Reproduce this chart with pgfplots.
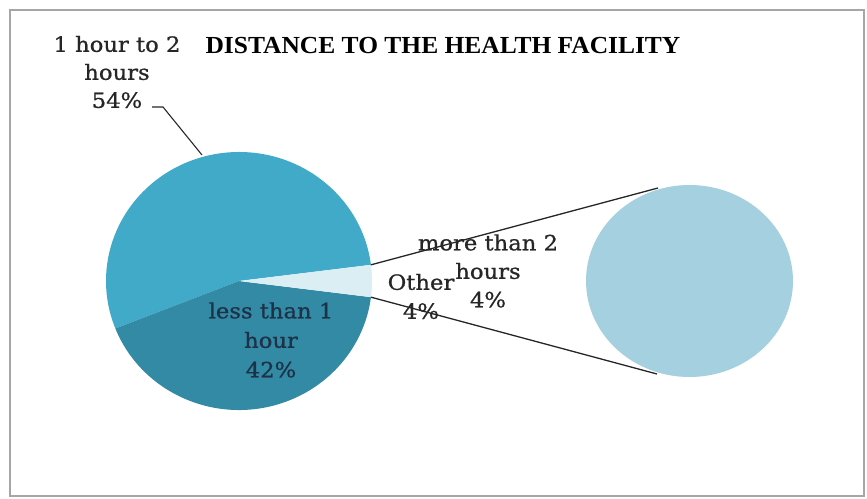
\documentclass[border=0pt]{standalone}
\usepackage{pgfplots}
\pgfplotsset{compat=1.18}
\usepackage{pgfplotstable}
\usepackage{fontspec}
\setmainfont{Liberation Serif}
\newfontfamily\labfont{DejaVu Serif}[FakeStretch=1.08,FakeBold=0.8]
\newfontfamily\titlefont{Liberation Serif}[FakeStretch=1.04]
\definecolor{midteal}{HTML}{40AAC8}
\definecolor{darkteal}{HTML}{338AA5}
\definecolor{paleteal}{HTML}{DAEEF3}
\definecolor{secblue}{HTML}{A5D0DF}
\definecolor{labgray}{HTML}{262626}
\definecolor{labnavy}{HTML}{1D3147}
\definecolor{framegray}{HTML}{A6A6A6}

\pgfplotstableread{
cat value
onetwo 54
less 42
other 4
}\piedata
\pgfplotstableread{
cat value
more 4
}\subdata

\begin{document}
\begin{tikzpicture}
\pgfplotstablegetelem{0}{value}\of\piedata \let\vA\pgfplotsretval
\pgfplotstablegetelem{1}{value}\of\piedata \let\vB\pgfplotsretval
\pgfplotstablegetelem{2}{value}\of\piedata \let\vC\pgfplotsretval
\pgfplotstablegetelem{0}{value}\of\subdata \let\vD\pgfplotsretval
\pgfmathsetmacro{\aS}{\vC*3.6/2}
\pgfmathsetmacro{\aA}{\aS+\vA*3.6}
\pgfmathsetmacro{\aB}{\aA+\vB*3.6}
\pgfmathsetmacro{\aC}{\aB+\vC*3.6}
\pgfmathsetmacro{\aD}{\vD/\vD*360}
\begin{axis}[x=1pt,y=1pt,xmin=0,xmax=867,ymin=0,ymax=498,hide axis,clip=false]
\path (axis cs:0,0) rectangle (axis cs:867,498);
\draw[framegray, line width=1.5pt] (axis cs:10,2) rectangle (axis cs:864,488);
% main pie
\fill[midteal] (axis cs:239,217) -- ++(\aS:133pt and 129pt) arc[start angle=\aS, end angle=\aA, x radius=133pt, y radius=129pt] -- cycle;
\fill[darkteal] (axis cs:239,217) -- ++(\aA:133pt and 129pt) arc[start angle=\aA, end angle=\aB, x radius=133pt, y radius=129pt] -- cycle;
\fill[paleteal] (axis cs:239,217) -- ++(\aB:133pt and 129pt) arc[start angle=\aB, end angle=\aC, x radius=133pt, y radius=129pt] -- cycle;
% secondary pie
\fill[secblue] (axis cs:689.5,217) -- ++(0:103.5pt and 96pt) arc[start angle=0, end angle=\aD, x radius=103.5pt, y radius=96pt] -- cycle;
% connectors
\draw[labgray, line width=1.3pt] (axis cs:239,217) ++(\aS:133pt and 129pt) -- (axis cs:658,310);
\draw[labgray, line width=1.3pt] (axis cs:239,217) ++(\aB:133pt and 129pt) -- (axis cs:657,124);
% leader
\draw[labgray, line width=1.1pt] (axis cs:152,391) -- (axis cs:163,391) -- (axis cs:202,343);
% labels
\node[font=\titlefont\bfseries\fontsize{24.5}{28}\selectfont] at (axis cs:443,452) {DISTANCE TO THE HEALTH FACILITY};
\node[font=\labfont\fontsize{21}{28}\selectfont, align=center, text=labgray] at (axis cs:117,426) {1 hour to 2\\hours\\54\%};
\node[font=\labfont\fontsize{21}{29.5}\selectfont, align=center, text=labnavy] at (axis cs:271,158) {less than 1\\hour\\42\%};
\node[font=\labfont\fontsize{21}{29}\selectfont, align=center, text=labgray] at (axis cs:421,201.5) {Other\\4\%};
\node[font=\labfont\fontsize{21}{28.5}\selectfont, align=center, text=labgray] at (axis cs:488,227) {more than 2\\hours\\4\%};
\end{axis}
\end{tikzpicture}
\end{document}
